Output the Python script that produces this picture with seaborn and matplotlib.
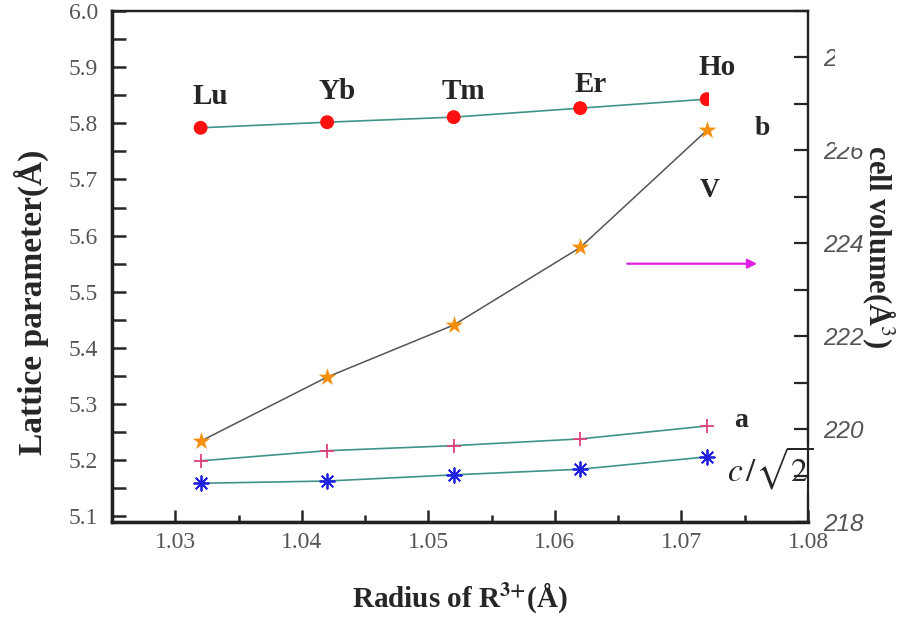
import matplotlib
matplotlib.use("Agg")
import matplotlib.pyplot as plt
import seaborn as sns
import pandas as pd
from matplotlib.patches import Rectangle
from matplotlib.ticker import MultipleLocator

# ionic radius of R3+ for Lu, Yb, Tm, Er, Ho
radius = [1.032, 1.042, 1.052, 1.062, 1.072]
elements = ["Lu", "Yb", "Tm", "Er", "Ho"]

# lattice parameters (left axis, Angstrom)
b_param = [5.792, 5.802, 5.811, 5.827, 5.843]
a_param = [5.199, 5.217, 5.226, 5.238, 5.261]
c_param = [5.159, 5.163, 5.174, 5.184, 5.206]

# unit-cell volume (right axis, Angstrom^3)
volume = [219.74, 221.12, 222.24, 223.91, 226.43]

df = pd.DataFrame({"radius": radius, "b": b_param, "a": a_param,
                   "c": c_param, "V": volume})

sns.set_style("ticks")
plt.rcParams['font.family'] = ['Liberation Serif', 'DejaVu Serif']
plt.rcParams['mathtext.fontset'] = 'stix'

fig = plt.figure(figsize=(9.19, 6.18), dpi=100)
ax = fig.add_axes([0.1219, 0.1553, 0.7573, 0.8269])
ax2 = ax.twinx()

line_col = "#3f9488"
# b, a, c/sqrt(2) on left axis
for col, mk, mc, size in [("b", "o", "#ff1010", 100),
                          ("a", "+", "#e0407a", 90),
                          ("c", (8, 2, 0), "#2020e0", 110)]:
    sns.lineplot(data=df, x="radius", y=col, ax=ax, color=line_col, lw=1.2)
    sns.scatterplot(data=df, x="radius", y=col, ax=ax, marker=mk, color=mc,
                    s=size, linewidth=1.3 if mk != "o" else 0, zorder=5,
                    edgecolor=mc if mk != "o" else "none")

# volume on right axis
sns.lineplot(data=df, x="radius", y="V", ax=ax2, color="#555555", lw=1.1)
sns.scatterplot(data=df, x="radius", y="V", ax=ax2, marker="*",
                color="#f5900f", s=180, linewidth=0, zorder=5)

ax.set_xlim(1.025, 1.08)
ax.set_ylim(5.09, 6.0)
ax2.set_ylim(218, 229)

ax.xaxis.set_major_locator(MultipleLocator(0.01))
ax.xaxis.set_minor_locator(MultipleLocator(0.005))
ax.yaxis.set_major_locator(MultipleLocator(0.1))
ax.yaxis.set_minor_locator(MultipleLocator(0.05))
ax2.yaxis.set_major_locator(MultipleLocator(2))
ax2.yaxis.set_minor_locator(MultipleLocator(1))
ax.set_xticks([1.03, 1.04, 1.05, 1.06, 1.07, 1.08])
ax.set_xticklabels(["1.03", "1.04", "1.05", "1.06", "1.07", "1.08"])
ax.set_yticks([5.1, 5.2, 5.3, 5.4, 5.5, 5.6, 5.7, 5.8, 5.9, 6.0])
ax.set_yticklabels(["5.1", "5.2", "5.3", "5.4", "5.5", "5.6", "5.7", "5.8",
                    "5.9", "6.0"])

for a_ in (ax, ax2):
    for sp in a_.spines.values():
        sp.set_linewidth(1.6)
        sp.set_color("#222222")
ax.spines["left"].set_linewidth(2.5)
ax.spines["bottom"].set_linewidth(2.5)

ax.tick_params(axis="x", which="major", direction="in", length=9, width=1.8,
               labelsize=17, labelcolor="#555555", pad=7)
ax.tick_params(axis="x", which="minor", direction="in", length=5, width=1.8)
ax.tick_params(axis="y", which="both", direction="in", length=10, width=1.8,
               labelsize=17, labelcolor="#555555", pad=10)
ax2.tick_params(axis="y", which="both", direction="in", length=10, width=1.6,
                pad=11)
for lab in ax2.get_yticklabels():
    lab.set_fontfamily("Liberation Sans")
    lab.set_fontstyle("italic")
    lab.set_fontsize(17.5)
    lab.set_color("#555555")

ax.set_xlabel("Radius of R$^{\\mathbf{3{+}}}$(Å)", fontsize=21,
              fontweight="bold", labelpad=20)
ax.set_ylabel("Lattice parameter(Å)", fontsize=24, fontweight="bold")
ax.yaxis.set_label_coords(-0.09, 0.43)
ax2.set_ylabel("Unit-cell volume(Å$^3$)", fontsize=22, fontweight="bold",
               rotation=270)
ax2.yaxis.set_label_coords(1.127, 0.605)

# element labels above the b points
label_y = [5.847, 5.856, 5.856, 5.870, 5.900]
for x, y, name in zip(radius, label_y, elements):
    ax.text(x + 0.0008, y, name, ha="center", va="center", fontsize=21,
            fontweight="bold")

# white box behind "b" (it hides part of the Ho point in the source)
ax.add_patch(Rectangle((0.858, 0.749), 0.138, 0.093, transform=ax.transAxes,
                       facecolor="white", edgecolor="none", zorder=6))
ax.text(1.0764, 5.79, "b", fontsize=20, fontweight="bold", ha="center",
        va="center", zorder=7)
ax.text(1.0722, 5.68, "V", fontsize=20, fontweight="bold", ha="center",
        va="center")
ax.text(1.0747, 5.27, "a", fontsize=20, fontweight="bold", ha="center",
        va="center")
ax.text(1.0736, 5.185, "$c\\,/\\sqrt{2}$", fontsize=24, va="center",
        bbox=dict(facecolor="white", edgecolor="none", pad=1), zorder=6)

ax.annotate("", xy=(1.0762, 5.55), xytext=(1.0655, 5.55),
            arrowprops=dict(arrowstyle="-|>", color="#e020e0", lw=1.6,
                            mutation_scale=14))

# white patch over the top of the right label, as in the source image
fig.patches.append(Rectangle((0.909, 0.762), 0.095, 0.25,
                             transform=fig.transFigure, facecolor="white",
                             edgecolor="none", zorder=10))

fig.savefig("out.png", dpi=100)
